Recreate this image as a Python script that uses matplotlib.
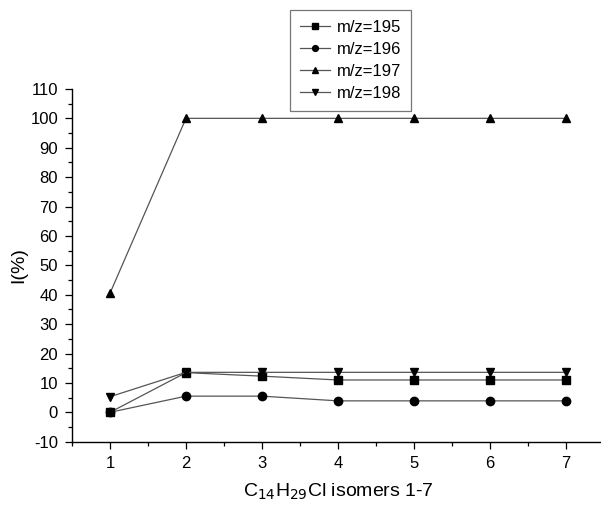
import numpy as np
import matplotlib.pyplot as plt
from matplotlib.ticker import MultipleLocator

plt.rcParams["font.family"] = ["Liberation Sans", "DejaVu Sans"]
plt.rcParams["axes.unicode_minus"] = False

# ------------------------------------------------------------------ #
#   Data
# ------------------------------------------------------------------ #
isomers = [1, 2, 3, 4, 5, 6, 7]
mz195 = [0.0, 13.5, 12.3, 11.0, 11.0, 11.0, 11.0]
mz196 = [0.0, 5.5, 5.5, 3.9, 3.9, 3.9, 3.9]
mz197 = [40.5, 100.0, 100.0, 100.0, 100.0, 100.0, 100.0]
mz198 = [5.3, 13.6, 13.6, 13.6, 13.6, 13.6, 13.6]

series = [
    ("m/z=195", mz195, "s"),
    ("m/z=196", mz196, "o"),
    ("m/z=197", mz197, "^"),
    ("m/z=198", mz198, "v"),
]

fig = plt.figure(figsize=(6.01, 5.15), dpi=100)
ax = fig.add_axes([0.1198, 0.1423, 0.885, 0.685])

for label, vals, marker in series:
    ax.plot(isomers, vals, color="#555555", linewidth=0.9, marker=marker,
            markersize=6, markerfacecolor="black", markeredgecolor="black",
            label=label)

ax.set_xlim(0.5, 7.5)
ax.set_ylim(-10, 110)
ax.xaxis.set_major_locator(MultipleLocator(1))
ax.xaxis.set_minor_locator(MultipleLocator(0.5))
ax.yaxis.set_major_locator(MultipleLocator(10))
ax.yaxis.set_minor_locator(MultipleLocator(5))
ax.tick_params(which="both", direction="out", labelsize=12, width=0.9)
ax.tick_params(which="major", length=5, pad=5)
ax.tick_params(which="minor", length=3)
for side in ("top", "right"):
    ax.spines[side].set_visible(False)
for side in ("left", "bottom"):
    ax.spines[side].set_linewidth(1.0)

ax.set_ylabel("I(%)", fontsize=14, labelpad=2)
ax.set_xlabel(r"C$_{14}$H$_{29}$Cl isomers 1-7", fontsize=14, labelpad=8)

leg = fig.legend(loc="upper left", bbox_to_anchor=(0.4825, 0.981), frameon=True,
                 fancybox=False, edgecolor="#555555", fontsize=12,
                 handlelength=1.8, handletextpad=0.4, borderpad=0.6,
                 labelspacing=0.42, markerscale=0.7, borderaxespad=0)
leg.get_frame().set_linewidth(0.9)

fig.savefig("out.png", dpi=100)
